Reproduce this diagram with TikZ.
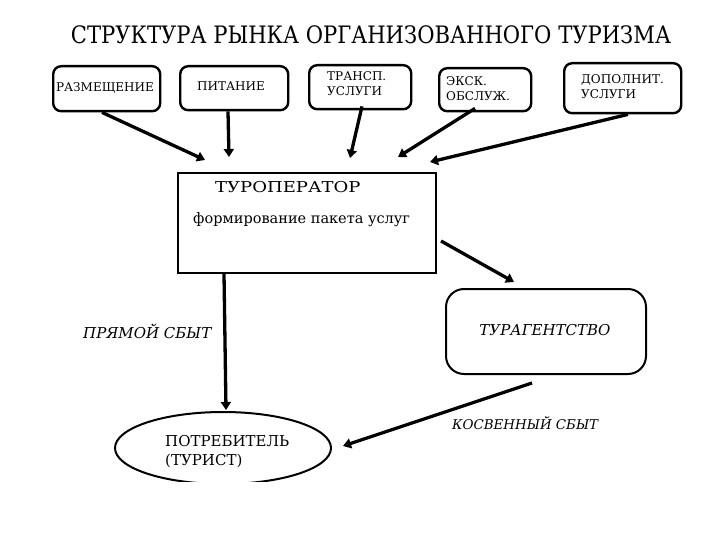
\documentclass[tikz,border=0pt]{standalone}
\usepackage{fontspec}
\setmainfont{DejaVu Serif}
\usetikzlibrary{arrows.meta,shapes.geometric}
\begin{document}
\begin{tikzpicture}[x=1pt,y=-1pt,
  topbox/.style={draw,line width=2.4pt,rounded corners=8pt,inner sep=0pt,anchor=north west},
  lbl/.style={inner sep=0pt,font=\fontsize{12}{15}\selectfont},
  arr/.style={line width=3.3pt,-{Triangle[length=8pt,width=10pt]}},
]
\useasboundingbox (0,0) rectangle (720,540);
% title
\node[inner sep=0pt] (title) at (371,35) {\scalebox{0.88}[1]{\fontsize{24}{28}\selectfont СТРУКТУРА РЫНКА ОРГАНИЗОВАННОГО ТУРИЗМА}};
% top boxes
\node[topbox,minimum width=107pt,minimum height=45pt] (b1) at (52,65) {};
\node[topbox,minimum width=108pt,minimum height=44pt] (b2) at (179,65) {};
\node[topbox,minimum width=102pt,minimum height=44pt] (b3) at (308,64) {};
\node[topbox,minimum width=92pt,minimum height=43pt] (b4) at (438,67) {};
\node[topbox,minimum width=117pt,minimum height=50pt] (b5) at (563,62) {};
\node[lbl] (t1) at (105,88) {РАЗМЕЩЕНИЕ};
\node[lbl] (t2) at (231,86) {ПИТАНИЕ};
\node[lbl,anchor=west,align=left] (t3) at (327,84) {ТРАНСП.\\УСЛУГИ};
\node[lbl,anchor=west,align=left] (t4) at (446,89) {ЭКСК.\\ОБСЛУЖ.};
\node[lbl,anchor=west,align=left] (t5) at (581,87) {ДОПОЛНИТ.\\УСЛУГИ};
% operator
\node[draw,line width=2pt,inner sep=0pt,anchor=north west,minimum width=258pt,minimum height=100pt] (op) at (177,172) {};
\node[inner sep=0pt,anchor=west] (opt) at (215,187) {\scalebox{1.2}[1]{\fontsize{15}{18}\selectfont ТУРОПЕРАТОР}};
\node[inner sep=0pt,anchor=west,font=\fontsize{14.5}{18}\selectfont] (ops) at (193,220) {формирование пакета услуг};
% agency
\node[draw,line width=2pt,rounded corners=18pt,inner sep=0pt,anchor=north west,minimum width=200pt,minimum height=85pt] (ag) at (445,288) {};
\node[inner sep=0pt,font=\itshape\fontsize{15}{18}\selectfont] (agt) at (545,330) {ТУРАГЕНТСТВО};
% consumer ellipse
\begin{scope}
\clip (0,0) rectangle (720,481);
\node[draw,line width=2pt,ellipse,minimum width=216pt,minimum height=72pt,inner sep=0pt] (cons) at (223,448) {};
\end{scope}
\node[inner sep=0pt,anchor=west,align=left,font=\fontsize{15}{19}\selectfont] (ct) at (165,452) {ПОТРЕБИТЕЛЬ\\(ТУРИСТ)};
% labels
\node[inner sep=0pt,anchor=west,font=\itshape\fontsize{15}{18}\selectfont] (l1) at (83,331) {ПРЯМОЙ СБЫТ};
\node[inner sep=0pt,anchor=west,font=\itshape\fontsize{13.4}{16}\selectfont] (l2) at (452,423) {КОСВЕННЫЙ СБЫТ};
% arrow endpoints
\coordinate (e1) at (205,160);
\coordinate (e2) at (229,157);
\coordinate (e3) at (350,158);
\coordinate (e4) at (398,157);
\coordinate (e5) at (430,162);
\coordinate (e6) at (514,282);
\coordinate (e7) at (226,410);
\coordinate (s8) at (532,383);
\coordinate (e8) at (343,446);
\draw[arr] ([xshift=50pt]b1.south west) -- (e1);
\draw[arr] ([xshift=49pt]b2.south west) -- (e2);
\draw[arr] ([xshift=54pt,yshift=4pt]b3.south west) -- (e3);
\draw[arr] ([xshift=37pt,yshift=4pt]b4.south west) -- (e4);
\draw[arr] ([xshift=65pt]b5.south west) -- (e5);
\draw[arr] ([xshift=4pt,yshift=-18pt]op.east) -- (e6);
\draw[arr] ([xshift=47pt]op.south west) -- (e7);
\draw[arr] (s8) -- (e8);
\end{tikzpicture}
\end{document}
